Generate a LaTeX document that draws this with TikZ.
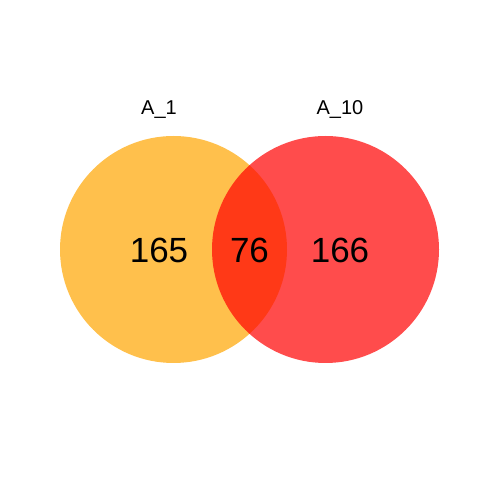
\documentclass[tikz,border=0pt]{standalone}
\usepackage{fontspec}
\setmainfont{Liberation Sans}
\begin{document}
\begin{tikzpicture}[x=1pt,y=1pt,
  setcirc/.style={circle,minimum size=227pt,inner sep=0pt,draw=none,fill opacity=0.7},
  count/.style={font=\fontsize{35}{35}\selectfont,anchor=base,inner sep=0pt},
  setlabel/.style={font=\fontsize{20}{20}\selectfont,anchor=base,inner sep=0pt}]
\useasboundingbox (0,0) rectangle (500,500);
\node[setcirc,fill={rgb,255:red,255;green,165;blue,0}] (c1) at (173.5,250.5) {};
\node[setcirc,fill={rgb,255:red,255;green,0;blue,0}] (c2) at (325.5,250.5) {};
\node[count] (n1) at (159,237) {165};
\node[count] (n12) at (249.5,237) {76};
\node[count] (n2) at (340,237) {166};
\node[setlabel] (l1) at (159,385) {A\_1};
\node[setlabel] (l2) at (340,385) {A\_10};
\end{tikzpicture}
\end{document}
